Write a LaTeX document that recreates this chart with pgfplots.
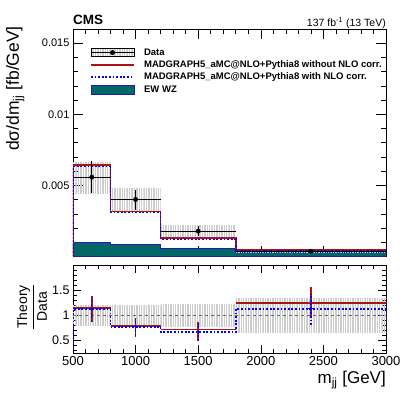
\documentclass[border=0pt]{standalone}
\usepackage{pgfplots}
\pgfplotsset{compat=1.18}
\usepackage{amsmath}
\usepackage{fontspec}
\setmainfont{Liberation Sans}
\usetikzlibrary{patterns.meta}
\definecolor{ewteal}{RGB}{0,102,102}
\definecolor{mgred}{RGB}{170,20,20}
\definecolor{ewblue}{RGB}{30,30,170}
\tikzset{hatch/.style={pattern={Lines[angle=90,distance=1.7pt,line width=0.5pt]}, pattern color=gray!40}}
\pgfplotsset{
  cmsframe/.style={
    scale only axis, anchor=south west, width=313pt,
    xmin=500, xmax=3000,
    xtick={500,1000,1500,2000,2500,3000}, minor x tick num=4,
    tick align=inside,
    tick style={black, line width=0.6pt},
    axis line style={line width=0.9pt},
    scaled x ticks=false, scaled y ticks=false,
    clip=true,
  },
}
\begin{document}
\begin{tikzpicture}[x=1pt,y=1pt]
\useasboundingbox (0,0) rectangle (407,395);
\begin{axis}[cmsframe,
  at={(73pt,138.5pt)}, height=227.5pt,
  ymin=0, ymax=0.016,
  xticklabels={},
  ytick={0,0.005,0.01,0.015}, yticklabels={,0.005,0.01,0.015}, minor y tick num=4,
  major tick length=10pt, minor tick length=5pt,
  yticklabel style={font=\fontsize{11}{11}\selectfont},
  legend style={draw=none, fill=none, at={(rel axis cs:0.0543,0.917)}, anchor=north west,
    inner sep=0pt, column sep=9.3pt, row sep=3.3pt,
    nodes={inner sep=0pt, text height=7pt, text depth=2pt},
    font=\bfseries\fontsize{9.5}{9.5}\selectfont},
  legend cell align=left,
]
\addlegendimage{legend image code/.code={
  \fill[hatch] (0pt,-4pt) rectangle (43pt,4pt);
  \draw[black, line width=1pt] (0pt,0pt) -- (43pt,0pt);
  \fill[black] (21.5pt,0pt) circle (2.2pt);}}
\addlegendentry{Data}
\addlegendimage{legend image code/.code={\draw[mgred, line width=1.6pt] (0pt,0pt) -- (43pt,0pt);}}
\addlegendentry{MADGRAPH5\_aMC@NLO+Pythia8 without NLO corr.}
\addlegendimage{legend image code/.code={\draw[blue, line width=1.6pt, dash pattern=on 1.8pt off 1.8pt] (0pt,0pt) -- (43pt,0pt);}}
\addlegendentry{MADGRAPH5\_aMC@NLO+Pythia8 with NLO corr.}
\addlegendimage{legend image code/.code={\filldraw[fill=ewteal, draw=ewblue] (0pt,-4.5pt) rectangle (43pt,4.5pt);}}
\addlegendentry{EW WZ}
% EW WZ
\addplot[fill=ewteal, draw=ewblue, line width=0.8pt, const plot mark left, forget plot]
  coordinates {(500,0.00096)(800,0.00087)(1200,0.00058)(1800,0.00026)(3000,0.00026)} \closedcycle;
% data uncertainty bands
\addplot[hatch, draw=none, forget plot] coordinates {(500,0.00446)(800,0.00446)(800,0.00664)(500,0.00664)} -- cycle;
\addplot[hatch, draw=none, forget plot] coordinates {(800,0.00324)(1200,0.00324)(1200,0.00477)(800,0.00477)} -- cycle;
\addplot[hatch, draw=none, forget plot] coordinates {(1200,0.00141)(1800,0.00141)(1800,0.00218)(1200,0.00218)} -- cycle;
\addplot[hatch, draw=none, forget plot] coordinates {(1800,0.00030)(3000,0.00030)(3000,0.00044)(1800,0.00044)} -- cycle;
% MC without NLO corr
\addplot[mgred, line width=1.6pt, const plot mark left, forget plot]
  coordinates {(500,0)(500,0.00643)(800,0.00317)(1200,0.00129)(1800,0.00047)(3000,0.00047)};
% MC with NLO corr
\addplot[blue, line width=1.6pt, dash pattern=on 1.8pt off 1.8pt, const plot mark left, forget plot]
  coordinates {(500,0)(500,0.00632)(800,0.00309)(1200,0.00120)(1800,0.00042)(3000,0.00042)};
% data
\addplot[black, only marks, mark=*, mark size=2.2pt, forget plot,
  error bars/.cd, x dir=both, x explicit, y dir=both, y explicit,
  error bar style={black, line width=1pt}, error mark=none]
  coordinates {
  (650,0.00558) += (150,0.00111) -= (150,0.00112)
  (1000,0.00401) += (200,0.00070) -= (200,0.00077)
  (1500,0.00178) += (300,0.00035) -= (300,0.00037)
  (2400,0.00037) += (600,0.00008) -= (600,0.00008)
  };
\end{axis}
\begin{axis}[cmsframe,
  at={(73pt,42pt)}, height=88pt,
  ymin=0.25, ymax=2,
  xticklabels={500,1000,1500,2000,2500,3000},
  ytick={0.5,1,1.5}, yticklabels={0.5,1,1.5},
  minor ytick={0.3,0.4,0.6,0.7,0.8,0.9,1.1,1.2,1.3,1.4,1.6,1.7,1.8,1.9},
  major tick length=8pt, minor tick length=4pt,
  yticklabel style={font=\fontsize{12.5}{12.5}\selectfont},
  xticklabel style={font=\fontsize{13}{13}\selectfont},
]
\addplot[hatch, draw=none] coordinates {(500,0.79)(800,0.79)(800,1.20)(500,1.20)} -- cycle;
\addplot[hatch, draw=none] coordinates {(800,0.79)(1200,0.79)(1200,1.19)(800,1.19)} -- cycle;
\addplot[hatch, draw=none] coordinates {(1200,0.78)(1800,0.78)(1800,1.22)(1200,1.22)} -- cycle;
\addplot[hatch, draw=none] coordinates {(1800,0.66)(3000,0.66)(3000,1.33)(1800,1.33)} -- cycle;
\addplot[black!60, dashed, line width=0.6pt] coordinates {(500,1)(3000,1)};
% red ratio
\addplot[draw=none, mark=none,
  error bars/.cd, x dir=both, x explicit, y dir=both, y explicit,
  error bar style={draw=mgred, line width=1.6pt}, error mark=none]
  coordinates {
  (650,1.14) += (150,0.25) -= (150,0.27)
  (1000,0.79) += (200,0.155) -= (200,0.22)
  (1500,0.72) += (300,0.15) -= (300,0.23)
  (2400,1.25) += (600,0.31) -= (600,0.30)
  };
% blue ratio
\addplot[blue, line width=1.6pt, dash pattern=on 1.8pt off 1.8pt, const plot mark left]
  coordinates {(500,0)(500,1.12)(800,0.77)(1200,0.67)(1800,1.13)(3000,1.13)};
\addplot[blue, only marks, mark=-, mark size=2.5pt, mark options={solid, line width=1.2pt},
  error bars/.cd, y dir=both, y explicit,
  error bar style={draw=blue, line width=1.4pt, dash pattern=on 1.8pt off 1.8pt}, error mark=none]
  coordinates {
  (650,1.12) += (0,0.25) -= (0,0.26)
  (1000,0.77) += (0,0.16) -= (0,0.20)
  (1500,0.67) += (0,0.19) -= (0,0.20)
  (2400,1.13) += (0,0.30) -= (0,0.32)
  };
\end{axis}
% texts
\node[anchor=base west, inner sep=0pt, font=\bfseries\fontsize{13.5}{13.5}\selectfont] at (73,370) {CMS};
\node[anchor=base east, inner sep=0pt, font=\fontsize{10.5}{10.5}\selectfont] at (386,368.5) {137 fb$^{\text{-1}}$ (13 TeV)};
\node[anchor=base east, rotate=90, inner sep=0pt, font=\fontsize{17.5}{17.5}\selectfont] at (19,369) {dσ/dm$_{\text{jj}}$ [fb/GeV]};
\node[rotate=90, inner sep=0pt, font=\fontsize{14}{14}\selectfont] at (32,88) {$\dfrac{\text{Theory}}{\text{Data}}$};
\node[anchor=base east, inner sep=0pt, font=\fontsize{17}{17}\selectfont] at (386,11) {m$_{\text{jj}}$ [GeV]};
\end{tikzpicture}
\end{document}
